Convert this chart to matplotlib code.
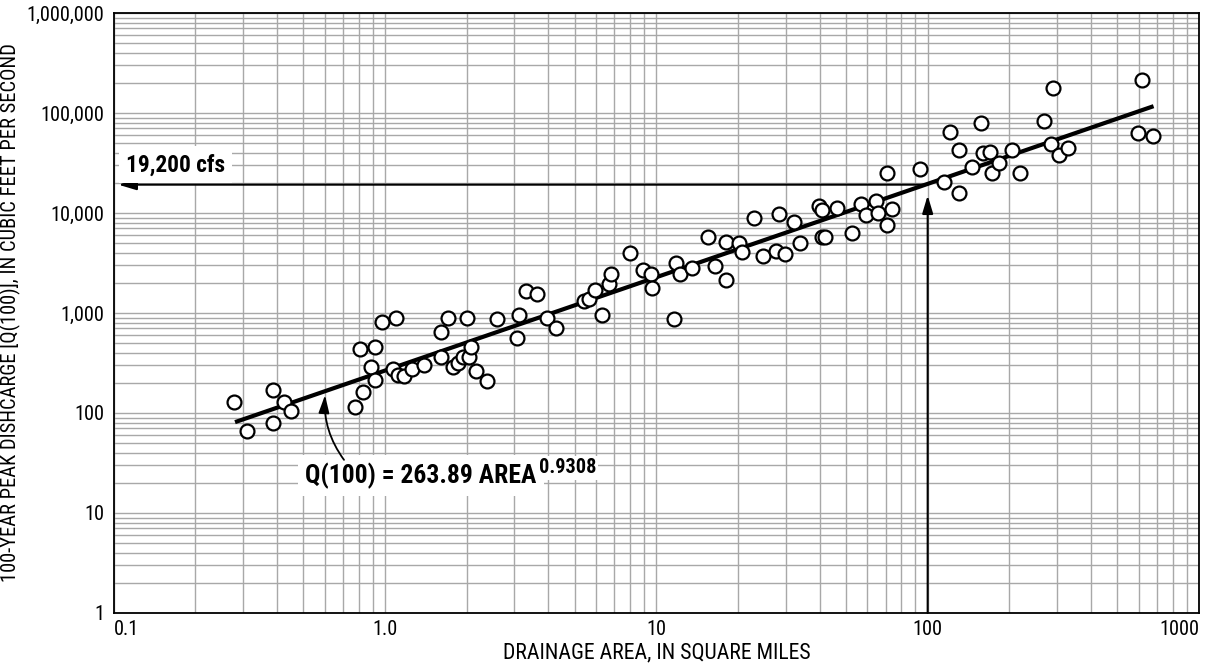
import matplotlib
matplotlib.use('Agg')
import matplotlib.pyplot as plt
import numpy as np
from matplotlib import font_manager
from matplotlib.ticker import FixedLocator, LogLocator, NullFormatter, FixedFormatter

_names = {f.name for f in font_manager.fontManager.ttflist}
_cands = [n for n in ['Liberation Sans Narrow', 'Roboto Condensed', 'Liberation Sans'] if n in _names]
FONT = _cands + ['DejaVu Sans']
CONDENSED = FONT[0] in ('Liberation Sans Narrow', 'Roboto Condensed')
plt.rcParams['font.family'] = FONT
k = 1.12 if CONDENSED else 1.0

# ---- data ----
area = [0.278, 0.310, 0.388, 0.388, 0.426, 0.450, 0.775, 0.827, 0.811, 0.921,
        0.888, 0.921, 0.972, 1.095, 1.073, 1.12, 1.175, 1.254, 1.392, 1.605,
        1.609, 1.702, 1.785, 1.863, 1.934, 2.035, 2.075, 2.0, 2.165, 2.371,
        2.594, 3.058, 3.118, 3.31, 3.625, 3.955, 4.27, 5.43, 5.65, 5.94,
        6.31, 6.71, 6.79, 8.0, 8.96, 9.53, 9.67, 11.65, 11.8, 12.2,
        13.5, 15.5, 16.5, 18.1, 18.0, 20.2, 20.6, 23.0, 24.7, 27.6,
        28.2, 29.8, 32.2, 33.9, 39.9, 40.7, 40.7, 42.0, 46.5, 52.8,
        56.8, 59.1, 64.5, 65.8, 71.0, 71.0, 74.1, 93.8, 115, 121,
        130.6, 130.6, 146, 157, 160.5, 170, 172, 183, 204, 219,
        269, 289, 284, 305, 330, 595, 615, 676]
discharge = [128, 66, 170, 79, 130, 105, 116, 162, 437, 460,
             290, 214, 819, 891, 274, 240, 236, 274, 302, 366,
             646, 898, 286, 314, 366, 363, 460, 898, 263, 207,
             865, 566, 955, 1671, 1538, 898, 713, 1318, 1371, 1698,
             955, 1936, 2436, 3953, 2692, 2436, 1766, 865, 3141, 2436,
             2799, 5715, 2951, 5166, 2138, 5047, 4104, 8851, 3715, 4169,
             9772, 3890, 8072, 4977, 11749, 10715, 5797, 5797, 11143, 6266,
             12303, 9550, 13183, 10075, 25293, 7586, 11041, 27733, 20559, 65013,
             42658, 15740, 29040, 78886, 40087, 40457, 24946, 31405, 42658, 24946,
             83176, 176600, 48641, 38019, 44361, 62661, 213800, 58884]

fit_area = [0.28, 680]
fit_q = [81, 117000]

example_area = 100
example_q = 19200
example_arrow_top = 15000

x_ticks = [0.1, 1, 10, 100, 1000]
x_ticklabels = ['0.1', '1.0', '10', '100', '1000']
y_ticks = [1, 10, 100, 1000, 10000, 100000, 1000000]
y_ticklabels = ['1', '10', '100', '1,000', '10,000', '100,000', '1,000,000']

equation_label = 'Q(100) = 263.89 AREA'
equation_exponent = '0.9308'
example_label = '19,200 cfs'
xlabel = 'DRAINAGE AREA, IN SQUARE MILES'
ylabel = '100-YEAR PEAK DISHCARGE [Q(100)], IN CUBIC FEET PER SECOND'

# ---- figure ----
W, H = 1212, 665
AX_L, AX_R, AX_T, AX_B = 113.7, 1199, 13, 613
fig = plt.figure(figsize=(W / 100, H / 100), dpi=100)
ax = fig.add_axes([AX_L / W, 1 - AX_B / H, (AX_R - AX_L) / W, (AX_B - AX_T) / H])
ax.set_xscale('log')
ax.set_yscale('log')
ax.set_xlim(0.1, 1000)
ax.set_ylim(1, 1e6)

ax.xaxis.set_major_locator(FixedLocator(x_ticks))
ax.xaxis.set_major_formatter(FixedFormatter(x_ticklabels))
ax.yaxis.set_major_locator(FixedLocator(y_ticks))
ax.yaxis.set_major_formatter(FixedFormatter(y_ticklabels))
ax.xaxis.set_minor_locator(LogLocator(base=10, subs=np.arange(2, 10)))
ax.yaxis.set_minor_locator(LogLocator(base=10, subs=np.arange(2, 10)))
ax.xaxis.set_minor_formatter(NullFormatter())
ax.yaxis.set_minor_formatter(NullFormatter())

ax.grid(True, which='both', color='#a8a8a8', lw=1.0, zorder=0)
ax.set_axisbelow(True)
ax.tick_params(which='both', length=0, labelsize=13 * k)
ax.tick_params(axis='x', pad=5)
ax.tick_params(axis='y', pad=7)
for s in ax.spines.values():
    s.set_linewidth(1.3)
    s.set_color('black')

xt = ax.get_xticklabels()
xt[0].set_horizontalalignment('left')
xt[-1].set_horizontalalignment('right')

ax.set_xlabel(xlabel, fontsize=14 * k)
ax.set_ylabel(ylabel, fontsize=13.2 * k)
axw, axh = AX_R - AX_L, AX_B - AX_T
ax.xaxis.set_label_coords(0.5, -(642 - AX_B) / axh)
ax.yaxis.set_label_coords(-(AX_L - 21) / axw, 0.5)

# fit line and observations
ax.plot(fit_area, fit_q, color='black', lw=3.0, zorder=3, solid_capstyle='butt')
ax.plot(area, discharge, 'o', ms=10, mfc='white', mec='black', mew=1.6, zorder=4)

# example arrows
arrow_kw = dict(arrowstyle='-|>,head_length=0.6,head_width=0.18', lw=1.5,
                color='black', mutation_scale=18, shrinkA=0, shrinkB=0)
ax.annotate('', xy=(0.104, example_q), xytext=(example_area, example_q),
            arrowprops=arrow_kw, zorder=2)
ax.annotate('', xy=(example_area, example_arrow_top), xytext=(example_area, 1),
            arrowprops=arrow_kw, zorder=2)

ax.text(0.111, 30200, example_label, fontsize=15 * k, fontweight='bold',
        ha='left', va='center', zorder=5,
        bbox=dict(boxstyle='square,pad=0.3', fc='white', ec='none'))

eq = ax.text(0.508, 20, equation_label, fontsize=16.5 * k, fontweight='bold',
             ha='left', va='baseline', zorder=5,
             bbox=dict(boxstyle='square,pad=0.3', fc='white', ec='none'))
ax.annotate(equation_exponent, xy=(1, 1), xycoords=eq, xytext=(1.5, 3),
            textcoords='offset points', ha='left', va='top',
            fontsize=13 * k, fontweight='bold', zorder=5,
            bbox=dict(boxstyle='square,pad=0.12', fc='white', ec='none'))

ax.annotate('', xy=(0.601, 151), xytext=(0.706, 34),
            arrowprops=dict(arrowstyle='-|>,head_length=0.6,head_width=0.18',
                            lw=1.3, color='black', mutation_scale=18,
                            shrinkA=0, shrinkB=0,
                            connectionstyle='arc3,rad=-0.18'), zorder=6)

fig.savefig('out.png', dpi=100)
